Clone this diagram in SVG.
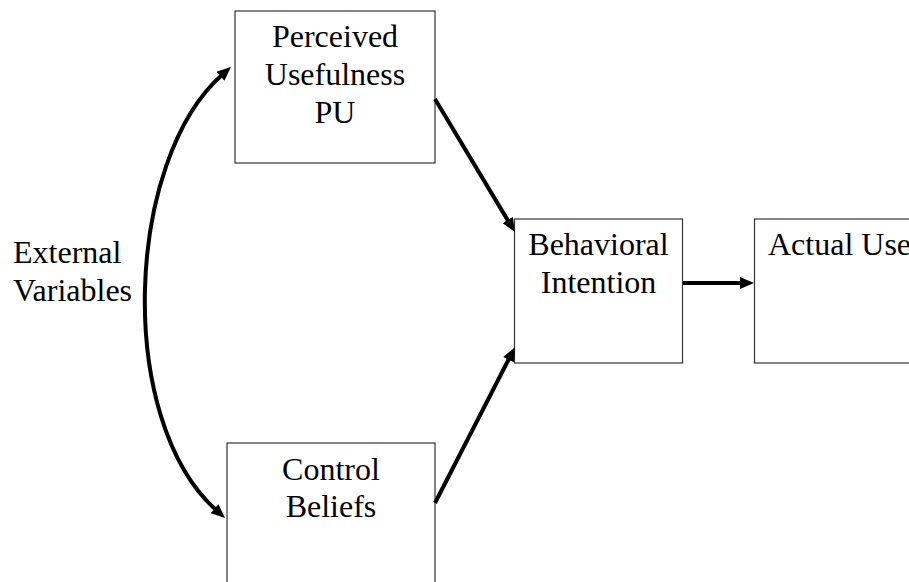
<svg xmlns="http://www.w3.org/2000/svg" width="909" height="582" viewBox="0 0 909 582">
<style>
.box{fill:#fff;stroke:#333;stroke-width:1.2}
.t{font-family:'Liberation Serif','DejaVu Serif',serif;font-size:32px;fill:#000}
.c{text-anchor:middle}
.arr{fill:none;stroke:#000;stroke-width:4}
</style>
<defs>
<marker id="ah" viewBox="0 0 14 12" refX="3" refY="6" markerWidth="14" markerHeight="12" markerUnits="userSpaceOnUse" orient="auto-start-reverse">
<path d="M0,0 L14,6 L0,12 z" fill="#000"/>
</marker>
</defs>
<rect width="909" height="582" fill="#fff"/>
<g id="pu">
<rect class="box" x="235" y="11" width="200" height="152"/>
<text class="t c" x="335" y="47">Perceived</text>
<text class="t c" x="335" y="85">Usefulness</text>
<text class="t c" x="335" y="123">PU</text>
</g>
<g id="cb">
<rect class="box" x="227" y="443" width="208" height="160"/>
<text class="t c" x="331" y="480">Control</text>
<text class="t c" x="331" y="517">Beliefs</text>
</g>
<g id="bi">
<rect class="box" x="514.5" y="219" width="168" height="144"/>
<text class="t c" x="598.5" y="255">Behavioral</text>
<text class="t c" x="598.5" y="293">Intention</text>
</g>
<g id="au">
<rect class="box" x="754.5" y="219" width="169" height="144"/>
<text class="t c" x="839.5" y="255">Actual Use</text>
</g>
<g id="ev">
<text class="t" x="13" y="263">External</text>
<text class="t" x="13" y="301">Variables</text>
</g>
<g id="connectors">
<path class="arr" d="M222.7,74.3 C125,160 115,420 216.8,510.7" marker-start="url(#ah)" marker-end="url(#ah)"/>
<path class="arr" d="M435,99 L509.2,222.6" marker-end="url(#ah)"/>
<path class="arr" d="M435,503 L509.9,357" marker-end="url(#ah)"/>
<path class="arr" d="M683,283 L743,283" marker-end="url(#ah)"/>
</g>
</svg>
